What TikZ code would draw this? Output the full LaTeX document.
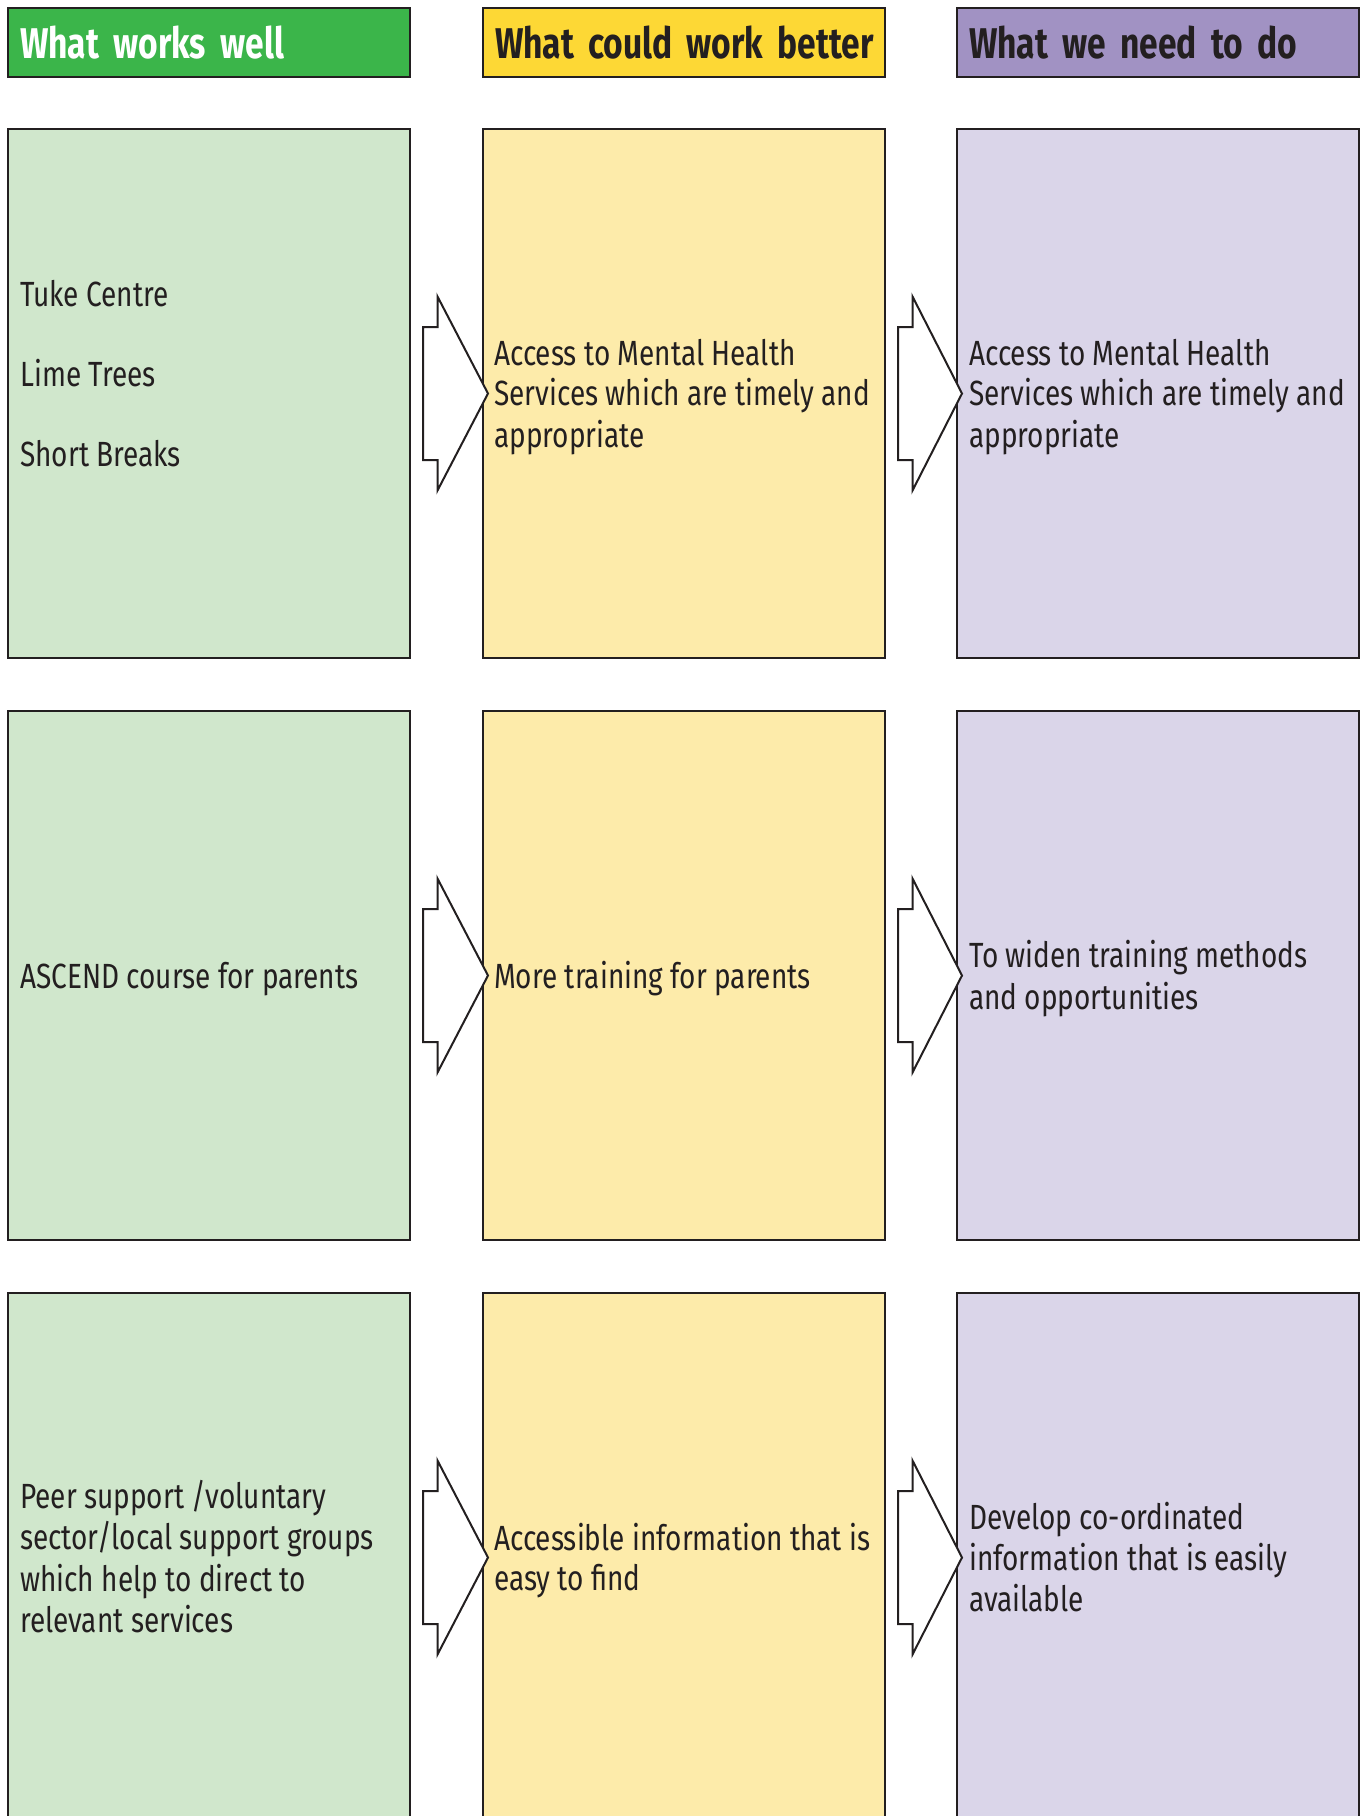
\documentclass[tikz,border=0pt]{standalone}
\usepackage{fontspec}
\setmainfont{Fira Sans}[FakeStretch=0.8]
\newfontfamily\hdfont{Fira Sans}[FakeStretch=0.78]
\usetikzlibrary{calc}
\definecolor{hgreen}{RGB}{59,181,74}
\definecolor{lgreen}{RGB}{208,231,204}
\definecolor{hyellow}{RGB}{253,216,53}
\definecolor{lyellow}{RGB}{253,235,170}
\definecolor{hpurple}{RGB}{161,146,195}
\definecolor{lpurple}{RGB}{218,213,233}
\definecolor{ink}{RGB}{35,31,32}
\newcommand\mystrut{\rule[-7pt]{0pt}{40pt}}
\newcommand\hdset{\hdfont\fontsize{43}{48}\selectfont\bfseries\spaceskip=8pt\relax}
\begin{document}
\begin{tikzpicture}[x=1pt,y=-1pt,
  hdr/.style={draw=ink, line width=2pt, minimum width=402pt, minimum height=69pt,
    anchor=north west, outer sep=0pt, inner xsep=12pt, inner ysep=0pt,
    text width=378pt, align=left, font=\hdset},
  box/.style={draw=ink, line width=2pt, minimum width=402pt, minimum height=529pt,
    anchor=north west, outer sep=0pt, inner sep=0pt},
  txt/.style={anchor=west, align=left, inner sep=0pt, text=ink,
    font=\fontsize{35}{40}\selectfont},
  arr/.style={draw=ink, fill=white, line width=2pt, line join=miter}]
\useasboundingbox (0,0) rectangle (1365,1816);
% headers
\node[hdr, fill=hgreen, text=white] (h1) at (8,8) {\mbox{What works well}};
\node[hdr, fill=hyellow, text=ink] (h2) at (483,8) {\mbox{What could work better}};
\node[hdr, fill=hpurple, text=ink] (h3) at (957,8) {\mbox{What we need to do}};
% boxes
\foreach \r/\yy in {1/129, 2/711, 3/1293}{
  \node[box, fill=lgreen] (g\r) at (8,\yy) {};
  \node[box, fill=lyellow] (y\r) at (483,\yy) {};
  \node[box, fill=lpurple] (p\r) at (957,\yy) {};
}
% texts
\node[txt] (tg1) at ($(g1.west)+(12,-20)$) {\mystrut Tuke Centre\\\mystrut\\\mystrut Lime Trees\\\mystrut\\\mystrut Short Breaks};
\node[txt] (ty1) at ($(y1.west)+(11,0)$) {\mystrut Access to Mental Health\\\mystrut Services which are timely and\\\mystrut appropriate};
\node[txt] (tp1) at ($(p1.west)+(12,0)$) {\mystrut Access to Mental Health\\\mystrut Services which are timely and\\\mystrut appropriate};
\node[txt] (tg2) at ($(g2.west)+(12,0)$) {\mystrut ASCEND course for parents};
\node[txt] (ty2) at ($(y2.west)+(11,0)$) {\mystrut More training for parents};
\node[txt] (tp2) at ($(p2.west)+(12,0)$) {\mystrut To widen training methods\\\mystrut and opportunities};
\node[txt] (tg3) at ($(g3.west)+(12,0)$) {\mystrut Peer support /voluntary\\\mystrut sector/local support groups\\\mystrut which help to direct to\\\mystrut relevant services};
\node[txt] (ty3) at ($(y3.west)+(11,0)$) {\mystrut Accessible information that is\\\mystrut easy to find};
\node[txt] (tp3) at ($(p3.west)+(12,0)$) {\mystrut Develop co-ordinated\\\mystrut information that is easily\\\mystrut available};
% block arrows
\foreach \a/\b in {g1/y1, y1/p1, g2/y2, y2/p2, g3/y3, y3/p3}{
  \draw[arr] ($(\a.east)+(13,-66.5)$) -- ($(\a.east)+(27.5,-66.5)$) -- ($(\a.east)+(27.5,-97)$)
    -- ($(\b.west)+(5,0)$) -- ($(\a.east)+(27.5,97)$) -- ($(\a.east)+(27.5,66.5)$)
    -- ($(\a.east)+(13,66.5)$) -- cycle;
}
\end{tikzpicture}
\end{document}
